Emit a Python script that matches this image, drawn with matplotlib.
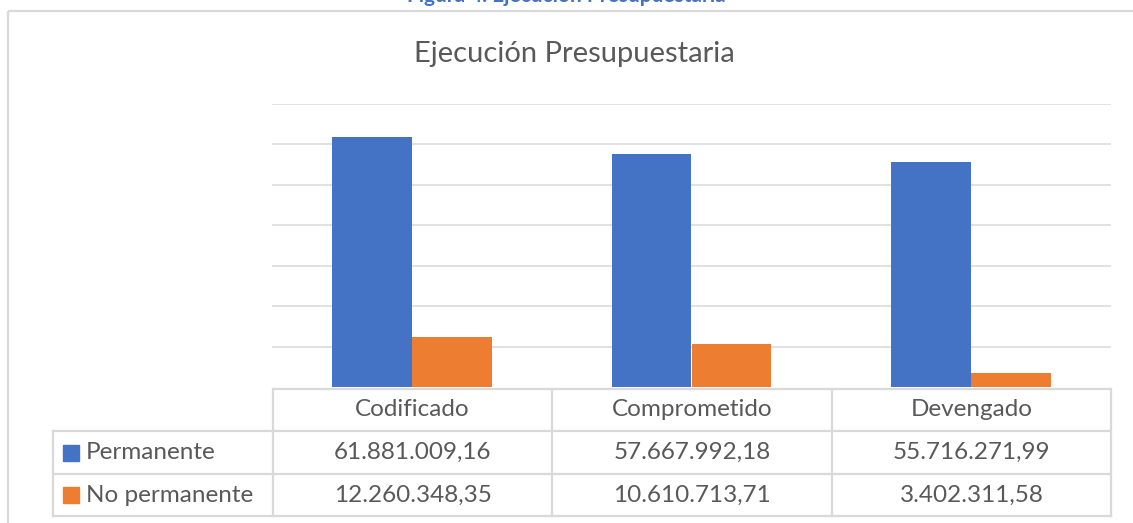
import matplotlib.pyplot as plt
import numpy as np

# datos del grafico
categorias = ['Codificado', 'Comprometido', 'Devengado']
series = ['Permanente', 'No permanente']
permanente = [61881009.16, 57667992.18, 55716271.99]
no_permanente = [12260348.35, 10610713.71, 3402311.58]
titulo = 'Ejecución Presupuestaria'
leyenda_fig = 'Figura 4. Ejecución Presupuestaria'

azul = '#4472C4'
naranja = '#ED7D31'
gris_txt = '#595959'
gris_lin = '#D9D9D9'
fuente = 'Lato'


def formato_es(v):
    s = f'{v:,.2f}'
    return s.replace(',', 'X').replace('.', ',').replace('X', '.')


W, H = 1133, 523
fig = plt.figure(figsize=(W / 100, H / 100), dpi=100)

# capa de fondo en pixeles (marco, tabla, textos)
bg = fig.add_axes([0, 0, 1, 1])
bg.set_xlim(0, W)
bg.set_ylim(H, 0)
bg.axis('off')

# marco del grafico
bg.plot([8, 8], [11, H], color=gris_lin, lw=1.6, solid_capstyle='butt')
bg.plot([8, W], [11, 11], color=gris_lin, lw=1.6, solid_capstyle='butt')

# leyenda de la figura (cortada arriba, como en el original)
bg.text(566, 1.5, leyenda_fig, ha='center', va='baseline', color='#4472C4',
        fontsize=15, fontweight='bold', family=fuente)

# titulo
bg.text(574, 54, titulo, ha='center', va='center', color=gris_txt,
        fontsize=21, family=fuente)

# area de barras
x0, x1, ytop, ybase = 272, 1111, 104, 387
ax = fig.add_axes([x0 / W, 1 - ybase / H, (x1 - x0) / W, (ybase - ytop) / H])
ax.set_xlim(-0.5, 2.5)
ax.set_ylim(0, 70e6)
x = np.arange(len(categorias))
ancho = 80 / 280
ax.bar(x - ancho / 2, permanente, ancho, color=azul, zorder=3)
ax.bar(x + ancho / 2, no_permanente, ancho, color=naranja, zorder=3)
ax.set_yticks(np.arange(10e6, 70.1e6, 10e6))
ax.yaxis.grid(True, color=gris_lin, lw=1.1)
ax.set_xticks([])
ax.tick_params(left=False, labelleft=False)
for s in ax.spines.values():
    s.set_visible(False)
ax.patch.set_alpha(0)

# tabla de datos
cols = [53, 273, 552, 832, 1111]
filas = [389, 431, 474, 516]
lw_t = 1.6
# horizontales
bg.plot([cols[1], cols[-1]], [filas[0], filas[0]], color=gris_lin, lw=lw_t)
for yy in filas[1:]:
    bg.plot([cols[0], cols[-1]], [yy, yy], color=gris_lin, lw=lw_t)
# verticales
bg.plot([cols[0], cols[0]], [filas[1], filas[-1]], color=gris_lin, lw=lw_t)
for xx in cols[1:]:
    bg.plot([xx, xx], [filas[0], filas[-1]], color=gris_lin, lw=lw_t)

fs_t = 17.5
for i, c in enumerate(categorias):
    cx = (cols[i + 1] + cols[i + 2]) / 2
    bg.text(cx, (filas[0] + filas[1]) / 2, c, ha='center', va='center',
            color=gris_txt, fontsize=fs_t, family=fuente)
    bg.text(cx, (filas[1] + filas[2]) / 2, formato_es(permanente[i]), ha='center',
            va='center', color=gris_txt, fontsize=fs_t, family=fuente)
    bg.text(cx, (filas[2] + filas[3]) / 2, formato_es(no_permanente[i]), ha='center',
            va='center', color=gris_txt, fontsize=fs_t, family=fuente)

for j, (nombre, col) in enumerate(zip(series, [azul, naranja])):
    cy = (filas[j + 1] + filas[j + 2]) / 2
    bg.add_patch(plt.Rectangle((63, cy - 8), 16, 16, color=col))
    bg.text(86, cy, nombre, ha='left', va='center', color=gris_txt,
            fontsize=fs_t, family=fuente)

fig.savefig('out.png', dpi=100)
